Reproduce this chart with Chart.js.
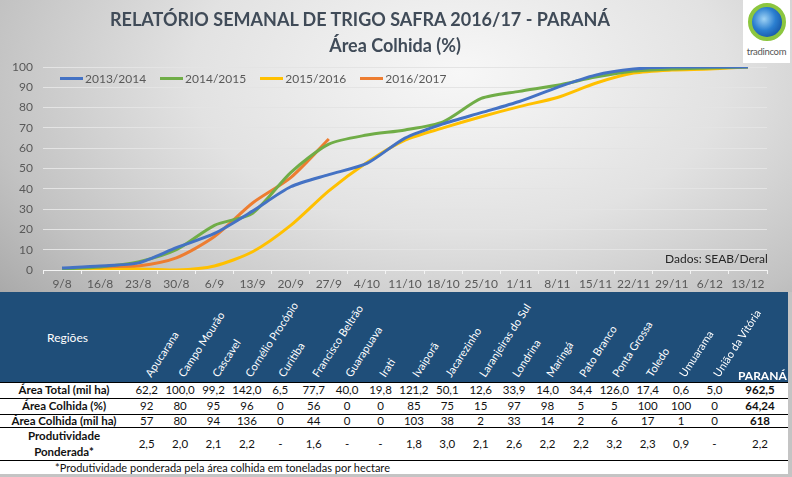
<!DOCTYPE html>
<html>
<head>
<meta charset="utf-8">
<script src="https://cdn.jsdelivr.net/npm/chart.js@4.4.0/dist/chart.umd.min.js"></script>
<style>
  body { margin: 0; width: 792px; height: 477px; overflow: hidden; background: #c4c4c4; font-family: Lato, "Noto Sans", sans-serif; }
  #topo { position: absolute; left: 0; top: 0; width: 792px; height: 292px;
    background: radial-gradient(ellipse 75% 120% at 58% 25%, #f7f7f7 0%, #e2e2e2 45%, #c2c2c2 80%, #a9a9a9 100%); }
  #grafico { position: absolute; left: 0; top: 0; }
  .titulo { position: absolute; left: 0; width: 720px; text-align: center; color: #404b58; font-weight: bold; }
  #legenda { position: absolute; left: 60px; top: 71px; display: flex; gap: 14px; font-size: 12px; color: #595959; }
  #legenda div { display: flex; align-items: center; gap: 2px; }
  #legenda span.l { display: inline-block; width: 23px; height: 3px; }
  #fonte { position: absolute; left: 665px; top: 251px; font-size: 12px; color: #262626; }
  #logo { position: absolute; left: 743px; top: 0; width: 47px; height: 63px; background: #fff; }
  #globo { position: absolute; left: 5px; top: 3px; width: 30px; height: 30px; border-radius: 50%;
    border: 4px solid #8cc63f; background: radial-gradient(circle at 40% 40%, #9fd3f5 0%, #2b7fd0 45%, #0b3d8c 100%); }
  #logo .t { position: absolute; left: 0; width: 47px; top: 46px; text-align: center; font-size: 9.5px; color: #555; letter-spacing: -0.3px; }
  #tabela { position: absolute; left: 0; top: 292px; width: 788px; height: 182px; background: #fff; }
  #cab { position: absolute; left: 0; top: 0; width: 788px; height: 90px; background: #1f4e79; overflow: hidden; }
  .rot { position: absolute; color: #fff; font-size: 11px; white-space: nowrap; transform-origin: 0 100%; transform: rotate(-57deg); line-height: 13px; }
  .cel { position: absolute; font-size: 11.5px; color: #111; text-align: center; white-space: nowrap; }
  .lin { position: absolute; left: 0; width: 788px; height: 1px; background: #000; }
</style>
</head>
<body>
<div id="topo">
  <canvas id="grafico" width="792" height="292"></canvas>
  <div class="titulo" style="top:8px;font-size:18px;">RELATÓRIO SEMANAL DE TRIGO SAFRA 2016/17 - PARANÁ</div>
  <div class="titulo" style="top:34px;font-size:18px;left:35px;">Área Colhida (%)</div>
  <div id="legenda"></div>
  <div id="fonte">Dados: SEAB/Deral</div>
  <div id="logo"><div id="globo"></div><div class="t">tradincom</div></div>
</div>
<div id="tabela"><div id="cab"></div></div>

<script>
// Semanas
const semanas = ['9/8', '16/8', '23/8', '30/8', '6/9', '13/9', '20/9', '27/9', '4/10', '11/10', '18/10',
  '25/10', '1/11', '8/11', '15/11', '22/11', '29/11', '6/12', '13/12']

// Área colhida acumulada (%) por safra
const safra1314 = [1, 2, 3.5, 11, 18, 29, 41, 47, 52.5, 65, 72, 77.5, 83, 90, 96, 99, 100, 100, 100]
const safra1415 = [0.5, 1.5, 4, 10, 22, 28, 48, 62, 66.5, 69, 73, 84.5, 88, 91, 95, 98, 99, 99.5, 100]
const safra1516 = [0, 0, 0.5, 0, 2, 9, 22, 39, 53, 64, 70, 75.5, 80.5, 85, 92, 97, 98.5, 99, 100]
const safra1617 = [0, 1, 2, 6, 16.5, 33, 45.5, 64.5]

const nomesSafras = ['2013/2014', '2014/2015', '2015/2016', '2016/2017']
const cores = ['#4472c4', '#70ad47', '#ffc000', '#ed7d31']

// Tabela por região
const regioes = ['Apucarana', 'Campo Mourão', 'Cascavel', 'Cornélio Procópio', 'Curitiba', 'Francisco Beltrão',
  'Guarapuava', 'Irati', 'Ivaiporã', 'Jacarezinho', 'Laranjeiras do Sul', 'Londrina', 'Maringá',
  'Pato Branco', 'Ponta Grossa', 'Toledo', 'Umuarama', 'União da Vitória']
const areaTotal = ['62,2', '100,0', '99,2', '142,0', '6,5', '77,7', '40,0', '19,8', '121,2', '50,1', '12,6',
  '33,9', '14,0', '34,4', '126,0', '17,4', '0,6', '5,0']
const areaColhidaPct = ['92', '80', '95', '96', '0', '56', '0', '0', '85', '75', '15', '97', '98', '5', '5', '100', '100', '0']
const areaColhidaHa = ['57', '80', '94', '136', '0', '44', '0', '0', '103', '38', '2', '33', '14', '2', '6', '17', '1', '0']
const produtividade = ['2,5', '2,0', '2,1', '2,2', '-', '1,6', '-', '-', '1,8', '3,0', '2,1', '2,6', '2,2', '2,2',
  '3,2', '2,3', '0,9', '-']
const totalParana = ['962,5', '64,24', '618', '2,2']

// Gráfico
const series = [safra1314, safra1415, safra1516, safra1617]
new Chart(document.getElementById('grafico').getContext('2d'), {
    type: 'line',
    data: {
        labels: semanas,
        datasets: series.map((s, i) => ({
            label: nomesSafras[i],
            data: s,
            borderColor: cores[i],
            backgroundColor: cores[i],
            borderWidth: 3,
            pointRadius: 0,
            tension: 0.25
        }))
    },
    options: {
        responsive: false,
        animation: false,
        layout: { padding: { top: 67, right: 25, left: 0, bottom: 0 } },
        plugins: { legend: { display: false }, tooltip: { enabled: false } },
        scales: {
            x: {
                offset: true,
                afterFit: s => { s.height = 22 },
                grid: { drawOnChartArea: false, color: '#f4f4f4', tickLength: 4, offset: true },
                border: { color: '#f4f4f4', width: 1 },
                ticks: { color: '#595959', font: { family: 'Lato', size: 12 }, padding: 3, maxRotation: 0 }
            },
            y: {
                min: 0, max: 100,
                afterFit: s => { s.width = 43 },
                grid: { color: '#e4e4e4', drawTicks: false },
                border: { display: false },
                ticks: { stepSize: 10, color: '#595959', font: { family: 'Lato', size: 12 }, padding: 10 }
            }
        }
    }
})

// Legenda
const legenda = document.getElementById('legenda')
nomesSafras.forEach((n, i) => {
    const d = document.createElement('div')
    d.innerHTML = `<span class="l" style="background:${cores[i]}"></span><span>${n}</span>`
    legenda.appendChild(d)
})

// Tabela
const tab = document.getElementById('tabela')
const cab = document.getElementById('cab')
const centro = i => 130 + 33.4 * i + 16.7
const centroPR = 760

function celula(texto, cx, top, h, extra) {
    const c = document.createElement('div')
    c.className = 'cel'
    c.style.left = (cx - 40) + 'px'
    c.style.width = '80px'
    c.style.top = top + 'px'
    c.style.height = h + 'px'
    c.style.lineHeight = h + 'px'
    if (extra) Object.assign(c.style, extra)
    c.textContent = texto
    tab.appendChild(c)
}

const reg = document.createElement('div')
reg.style.cssText = 'position:absolute;left:47px;top:38px;color:#fff;font-size:12px;'
reg.textContent = 'Regiões'
cab.appendChild(reg)
regioes.forEach((r, i) => {
    const s = document.createElement('div')
    s.className = 'rot'
    s.style.left = (centro(i) + 6) + 'px'
    s.style.top = (87 - 13) + 'px'
    s.textContent = r
    cab.appendChild(s)
})
const pr = document.createElement('div')
pr.style.cssText = 'position:absolute;left:738px;top:76px;color:#fff;font-size:12px;font-weight:bold;'
pr.textContent = 'PARANÁ'
cab.appendChild(pr)

const linhas = [
    { rot: 'Área Total (mil ha)', vals: areaTotal, top: 90, h: 16 },
    { rot: 'Área Colhida (%)', vals: areaColhidaPct, top: 106, h: 16 },
    { rot: 'Área Colhida (mil ha)', vals: areaColhidaHa, top: 122, h: 13 },
    { rot: 'Produtividade<br>Ponderada*', vals: produtividade, top: 135, h: 33 }
]
linhas.forEach((l, k) => {
    const c = document.createElement('div')
    c.className = 'cel'
    c.style.cssText = `left:0;width:128px;top:${l.top}px;height:${l.h}px;font-weight:bold;display:flex;align-items:center;justify-content:center;line-height:16px;`
    c.innerHTML = l.rot
    tab.appendChild(c)
    l.vals.forEach((v, i) => celula(v, centro(i), l.top, l.h))
    celula(totalParana[k], centroPR, l.top, l.h, k < 3 ? { fontWeight: 'bold' } : null)
})
;[90, 106, 122, 135, 168].forEach(y => {
    const d = document.createElement('div')
    d.className = 'lin'
    d.style.top = y + 'px'
    tab.appendChild(d)
})
const nota = document.createElement('div')
nota.className = 'cel'
nota.style.cssText = 'left:55px;top:169px;height:14px;line-height:14px;font-size:11px;text-align:left;'
nota.textContent = '*Produtividade ponderada pela área colhida em toneladas por hectare'
tab.appendChild(nota)
</script>
</body>
</html>
